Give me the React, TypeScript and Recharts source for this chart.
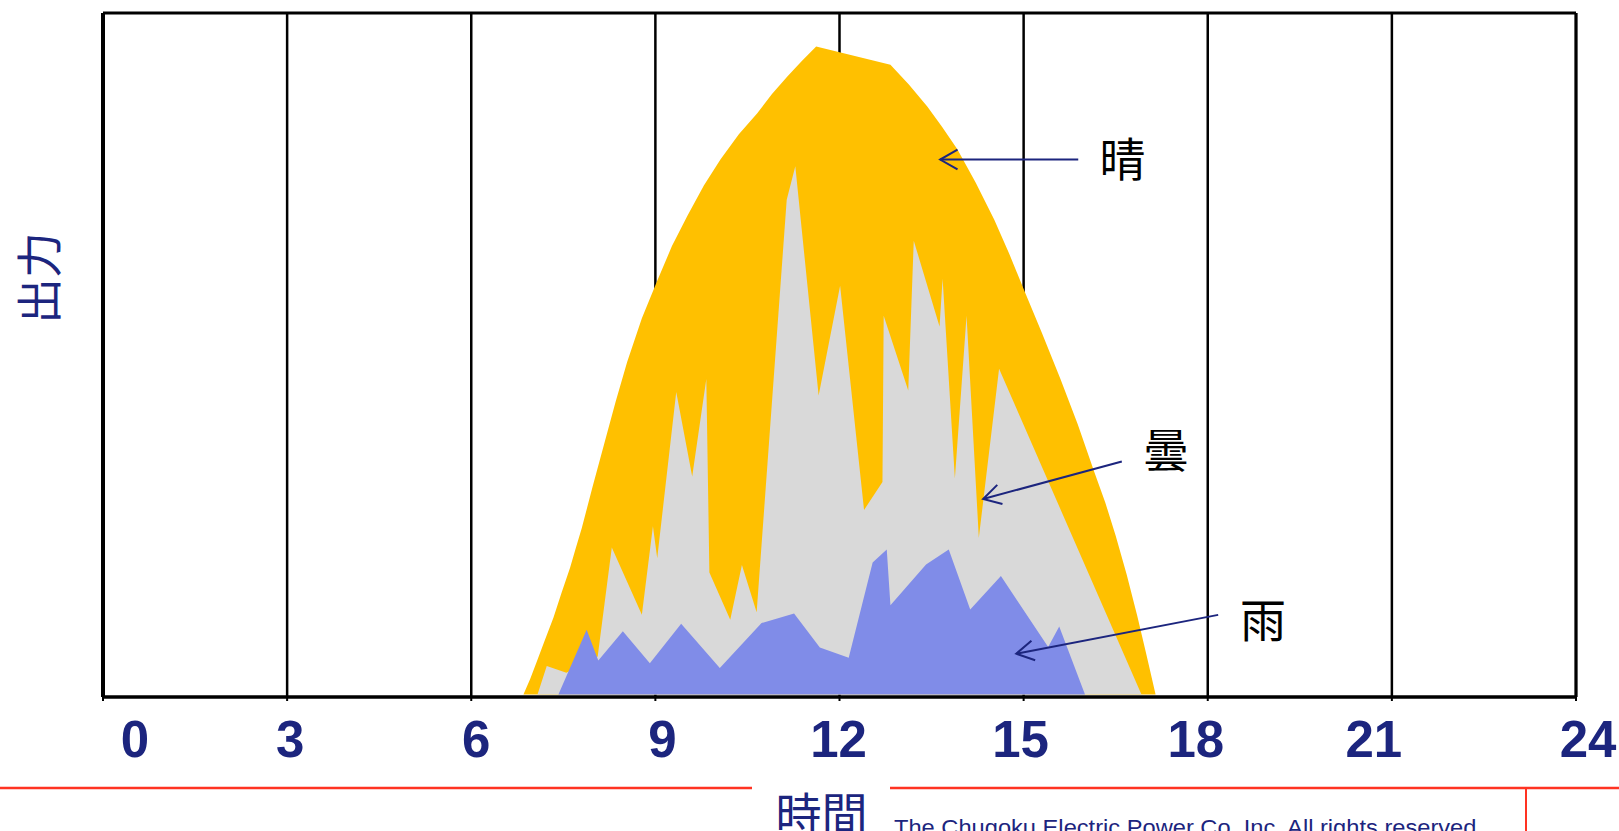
import React from "react";
import {
  ComposedChart,
  Area,
  XAxis,
  YAxis,
  CartesianGrid,
  ReferenceLine,
  ReferenceDot,
  Label,
} from "recharts";

// PV output through the day, as % of the clear-sky peak: [hour, output]
const sunny: [number, number][] = [
  [6.85, 0], [6.96, 2.3], [7.07, 4.9], [7.2, 8.0], [7.34, 11.3], [7.47, 14.9],
  [7.61, 18.6], [7.7, 21.4], [7.8, 24.4], [7.98, 30.6], [8.16, 36.6], [8.35, 42.9],
  [8.54, 48.8], [8.78, 55.2], [9.02, 60.5], [9.27, 65.8], [9.52, 70.2], [9.79, 74.7],
  [10.06, 78.5], [10.36, 82.2], [10.66, 85.3], [10.9, 88.1], [11.15, 90.7],
  [11.39, 93.0], [11.62, 95.1], [12.83, 92.4], [13.13, 89.5], [13.43, 86.3],
  [13.67, 83.3], [13.92, 80.0], [14.22, 75.1], [14.52, 69.7], [14.76, 64.8],
  [15.0, 59.5], [15.3, 53.0], [15.6, 46.3], [15.88, 39.7], [16.15, 32.7],
  [16.33, 28.2], [16.5, 23.3], [16.68, 17.6], [16.85, 11.6], [17.0, 5.9], [17.15, 0],
];

const cloudy: [number, number][] = [
  [7.08, 0], [7.23, 4.2], [7.55, 3.2], [8.06, 5.6], [8.29, 21.6], [8.78, 11.7],
  [8.96, 24.7], [9.03, 20.0], [9.34, 44.4], [9.6, 32.0], [9.83, 46.3], [9.88, 17.9],
  [10.22, 11.0], [10.41, 19.0], [10.65, 12.1], [11.14, 72.6], [11.28, 77.5],
  [11.66, 43.9], [12.01, 60.0], [12.4, 27.1], [12.7, 31.2], [12.72, 55.6],
  [13.12, 44.6], [13.21, 66.6], [13.63, 54.0], [13.68, 61.0], [13.88, 31.7],
  [14.07, 55.6], [14.27, 23.0], [14.6, 47.8], [16.92, 0],
];

const rainy: [number, number][] = [
  [7.42, 0], [7.88, 9.5], [8.07, 5.0], [8.47, 9.3], [8.91, 4.6], [9.42, 10.4],
  [10.05, 3.9], [10.73, 10.5], [11.26, 11.9], [11.68, 6.9], [12.15, 5.4],
  [12.54, 19.4], [12.77, 21.3], [12.83, 13.1], [13.41, 19.1], [13.78, 21.3],
  [14.13, 12.5], [14.63, 17.4], [15.4, 7.0], [15.58, 10.0], [16.0, 0],
];

const hourTicks = [0, 3, 6, 9, 12, 15, 18, 21, 24];

// callout arrows: tail -> tip, and where the weather word sits
const callouts = [
  { text: "晴", tail: [15.89, 78.5], tip: [13.64, 78.5], at: [16.61, 79.0] },
  { text: "曇", tail: [16.6, 34.2], tip: [14.34, 28.7], at: [17.32, 36.4] },
  { text: "雨", tail: [18.17, 11.7], tip: [14.88, 6.0], at: [18.9, 11.4] },
];

const W = 1619;
const H = 831;
const NAVY = "#1c257e";
const CJK = '"Noto Sans CJK JP", "Noto Sans CJK SC", sans-serif';

// small per-label nudges so the hour numbers sit like the slide's text row
const tickNudge = [32, 3, 5, 7, -1, -3, -12, -18, 12];

const rows = Array.from(new Set([...sunny, ...cloudy, ...rainy].map(([h]) => h)))
  .sort((a, b) => a - b)
  .map((hour) => ({
    hour,
    sunny: sunny.find((p) => p[0] === hour)?.[1],
    cloudy: cloudy.find((p) => p[0] === hour)?.[1],
    rainy: rainy.find((p) => p[0] === hour)?.[1],
  }));

function HourTick(props: any) {
  const { x, y, payload } = props;
  const i = hourTicks.indexOf(payload.value);
  return (
    <text
      x={x + (tickNudge[i] ?? 0)}
      y={y + 54}
      textAnchor="middle"
      fill={NAVY}
      fontSize={51}
      fontWeight={700}
      fontFamily='"Liberation Sans", Arial, sans-serif'
    >
      {payload.value}
    </text>
  );
}

function ArrowShape(props: any) {
  const { x1, y1, x2, y2 } = props;
  const back = Math.atan2(y1 - y2, x1 - x2);
  const len = 20;
  const spread = 0.52;
  const a = [x2 + len * Math.cos(back + spread), y2 + len * Math.sin(back + spread)];
  const b = [x2 + len * Math.cos(back - spread), y2 + len * Math.sin(back - spread)];
  return (
    <g>
      <line x1={x1} y1={y1} x2={x2} y2={y2} stroke={NAVY} strokeWidth={2} />
      <polyline
        points={`${a[0]},${a[1]} ${x2},${y2} ${b[0]},${b[1]}`}
        fill="none"
        stroke={NAVY}
        strokeWidth={2}
      />
    </g>
  );
}

export default function App() {
  return (
    <div
      style={{
        position: "absolute",
        left: 0,
        top: 0,
        width: W,
        height: H,
        background: "#fff",
        overflow: "hidden",
      }}
    >
      <ComposedChart
        width={W}
        height={H}
        data={rows}
        margin={{ top: 13, right: 43, bottom: 74, left: 0 }}
      >
        <CartesianGrid horizontal={false} stroke="#000" strokeWidth={2.5} />
        <XAxis
          dataKey="hour"
          type="number"
          domain={[0, 24]}
          ticks={hourTicks}
          interval={0}
          height={60}
          axisLine={{ stroke: "#000", strokeWidth: 3.5 }}
          tickLine={{ stroke: "#000", strokeWidth: 2 }}
          tickSize={4}
          tickMargin={2}
          tick={(p: any) => <HourTick {...p} />}
        >
          <Label
            content={({ viewBox }: any) => (
              <text
                x={viewBox.x + viewBox.width / 2 - 18}
                y={viewBox.y + 114}
                textAnchor="middle"
                dominantBaseline="central"
                fill={NAVY}
                fontSize={46}
                fontFamily={CJK}
              >
                時間
              </text>
            )}
          />
        </XAxis>
        <YAxis
          type="number"
          domain={[-0.35, 100]}
          width={103}
          tick={false}
          tickLine={false}
          axisLine={{ stroke: "#000", strokeWidth: 4 }}
        >
          <Label
            content={({ viewBox }: any) => {
              const cx = viewBox.x + 36;
              const cy = viewBox.y + 265;
              return (
                <text
                  x={cx}
                  y={cy}
                  transform={`rotate(-90 ${cx} ${cy})`}
                  textAnchor="middle"
                  dominantBaseline="central"
                  fill={NAVY}
                  fontSize={46}
                  fontFamily={CJK}
                >
                  出力
                </text>
              );
            }}
          />
        </YAxis>

        <Area
          dataKey="sunny"
          type="linear"
          fill="#ffc000"
          fillOpacity={1}
          stroke="none"
          connectNulls
          dot={false}
          activeDot={false}
          isAnimationActive={false}
        />
        <Area
          dataKey="cloudy"
          type="linear"
          fill="#d9d9d9"
          fillOpacity={1}
          stroke="none"
          connectNulls
          dot={false}
          activeDot={false}
          isAnimationActive={false}
        />
        <Area
          dataKey="rainy"
          type="linear"
          fill="#808ce8"
          fillOpacity={1}
          stroke="none"
          connectNulls
          dot={false}
          activeDot={false}
          isAnimationActive={false}
        />

        <ReferenceLine y={100} stroke="#000" strokeWidth={3} />
        <ReferenceLine x={24} stroke="#000" strokeWidth={3} />

        {callouts.map((c) => (
          <ReferenceLine
            key={`arrow-${c.text}`}
            segment={[
              { x: c.tail[0], y: c.tail[1] },
              { x: c.tip[0], y: c.tip[1] },
            ]}
            shape={ArrowShape}
          />
        ))}
        {callouts.map((c) => (
          <ReferenceDot
            key={`word-${c.text}`}
            x={c.at[0]}
            y={c.at[1]}
            r={0}
            fill="none"
            stroke="none"
            label={(p: any) => (
              <text
                x={p.viewBox.x + (p.viewBox.width || 0) / 2}
                y={p.viewBox.y + (p.viewBox.height || 0) / 2}
                textAnchor="middle"
                dominantBaseline="central"
                fill="#000"
                fontSize={46}
                fontFamily={CJK}
              >
                {c.text}
              </text>
            )}
          />
        ))}
      </ComposedChart>

      {/* slide footer: red rule and copyright line */}
      <svg
        width={W}
        height={H}
        style={{ position: "absolute", left: 0, top: 0, pointerEvents: "none" }}
      >
        <line x1={0} y1={788} x2={752} y2={788} stroke="#ff3322" strokeWidth={2.5} />
        <line x1={890} y1={788} x2={W} y2={788} stroke="#ff3322" strokeWidth={2.5} />
        <line x1={1526} y1={788} x2={1526} y2={H} stroke="#ff3322" strokeWidth={2} />
        <text
          x={894}
          y={835}
          fill={NAVY}
          fontSize={22}
          textLength={589}
          lengthAdjust="spacingAndGlyphs"
          fontFamily='"Liberation Sans", Arial, sans-serif'
        >
          The Chugoku Electric Power Co.,Inc. All rights reserved.
        </text>
      </svg>
    </div>
  );
}
